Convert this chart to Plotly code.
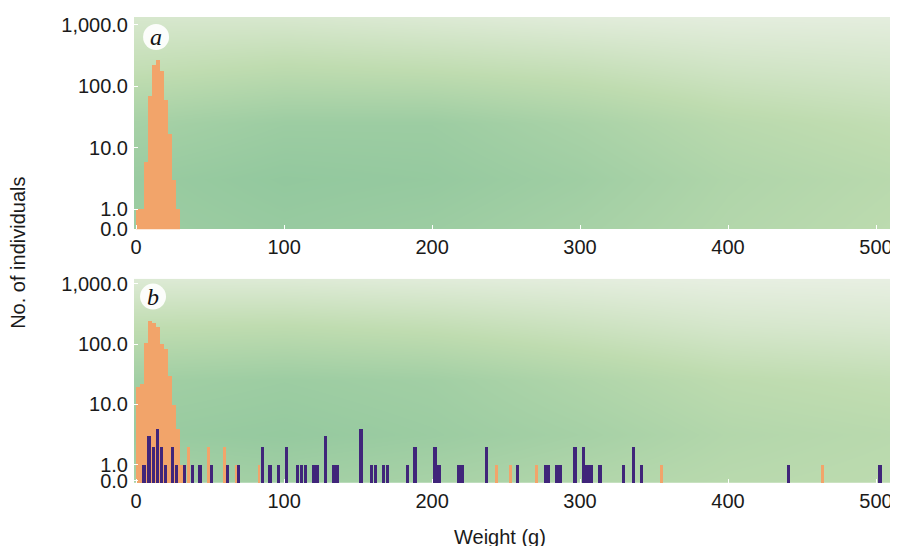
import plotly.graph_objects as go

# ---------------- data ----------------
bin_width = 2.7
# panel a: orange histogram (bin centres, g) and counts
orange_a_x = [1.35, 4.05, 6.75, 9.45, 12.15, 14.85, 17.55, 20.25, 22.95, 25.65, 28.35]
orange_a_y = [1, 1, 6, 69, 220, 265, 180, 60, 17, 3, 1]

# panel b: orange histogram main body
orange_b_x = [1.35, 4.05, 6.75, 9.45, 12.15, 14.85, 17.55, 20.25, 22.95, 25.65, 28.35, 31.05]
orange_b_y = [20, 22, 105, 245, 224, 195, 100, 83, 30, 10, 4, 1]
# panel b: isolated orange bars
orange_b2_x = [35.3, 48.9, 59.5, 67.6, 83.0, 243.7, 253.2, 270.7, 355.0, 463.9]
orange_b2_y = [2, 2, 2, 1, 1, 1, 1, 1, 1, 1]
# panel b: purple bars
purple_x = [5.4, 8.8, 11.7, 14.4, 17.1, 19.8, 24.5, 27.4, 32.6, 38.0, 43.2, 51.1,
            61.6, 69.3, 85.3, 90.5, 96.2, 101.4, 109.0, 111.8, 114.5, 119.8, 122.3,
            128.0, 133.3, 135.7, 152.0, 159.2, 161.9, 167.3, 169.8, 183.3, 188.5,
            202.0, 204.7, 217.8, 220.3, 236.9, 257.6, 276.4, 278.8, 284.0, 286.5,
            296.6, 302.2, 304.7, 307.4, 313.5, 329.3, 336.0, 341.7, 440.7, 502.7]
purple_y = [1, 3, 2, 4, 2, 1, 2, 1, 1, 1, 1, 1,
            1, 1, 2, 1, 1, 2, 1, 1, 1, 1, 1,
            3, 1, 1, 4, 1, 1, 1, 1, 1, 2,
            2, 1, 1, 1, 2, 1, 1, 1, 1, 1,
            2, 2, 1, 1, 1, 1, 2, 1, 1, 1]

x_ticks = [0, 100, 200, 300, 400, 500]
x_tick_text = ["0", "100", "200", "300", "400", "500"]
y_tick_text = ["0.0", "1.0", "10.0", "100.0", "1,000.0"]

# background shading grid (style only)
bg_x = [-2, 100, 200, 300, 400, 515]
bg_logy = [-0.4, 0.5, 1.4, 2.3, 3.25]
bg_a = [[0.85, 0.90, 0.85, 0.75, 0.62, 0.52],
        [0.88, 0.95, 0.92, 0.82, 0.66, 0.56],
        [0.75, 0.85, 0.85, 0.72, 0.56, 0.46],
        [0.45, 0.52, 0.48, 0.42, 0.32, 0.27],
        [0.22, 0.20, 0.15, 0.10, 0.08, 0.08]]
bg_b = [[0.72, 0.78, 0.72, 0.62, 0.56, 0.52],
        [0.88, 0.92, 0.86, 0.76, 0.62, 0.56],
        [0.80, 0.85, 0.80, 0.66, 0.52, 0.46],
        [0.48, 0.50, 0.45, 0.36, 0.26, 0.22],
        [0.12, 0.10, 0.07, 0.05, 0.03, 0.03]]

ORANGE = "#f2a46a"
PURPLE = "#40257a"
bg_scale = [[0.0, "#eef2ea"], [0.5, "#bfdcb0"], [1.0, "#8ec69c"]]

fig = go.Figure()

bg_y = [10 ** v for v in bg_logy]
fig.add_trace(go.Heatmap(x=bg_x, y=bg_y, z=bg_a, zsmooth="best", colorscale=bg_scale,
                         zmin=0, zmax=1, showscale=False, hoverinfo="skip",
                         xaxis="x", yaxis="y"))
fig.add_trace(go.Heatmap(x=bg_x, y=bg_y, z=bg_b, zsmooth="best", colorscale=bg_scale,
                         zmin=0, zmax=1, showscale=False, hoverinfo="skip",
                         xaxis="x2", yaxis="y2"))

fig.add_trace(go.Bar(x=orange_a_x, y=orange_a_y, width=bin_width, marker_color=ORANGE,
                     marker_line_width=0, xaxis="x", yaxis="y"))
fig.add_trace(go.Bar(x=orange_b_x, y=orange_b_y, width=bin_width, marker_color=ORANGE,
                     marker_line_width=0, xaxis="x2", yaxis="y2"))
fig.add_trace(go.Bar(x=orange_b2_x, y=orange_b2_y, width=1.9, marker_color=ORANGE,
                     marker_line_width=0, xaxis="x2", yaxis="y2"))
fig.add_trace(go.Bar(x=purple_x, y=purple_y, width=2.2, marker_color=PURPLE,
                     marker_line_width=0, xaxis="x2", yaxis="y2"))

FONT = dict(family="Liberation Sans, Arial, sans-serif", size=20, color="#1a1a1a")

xcommon = dict(range=[-1.4, 512.8], tickvals=x_ticks, ticktext=x_tick_text,
               ticks="inside", ticklen=4, tickcolor="white", showgrid=False,
               zeroline=False, showline=False, tickfont=FONT, ticklabelstandoff=4)

ya_range = [-0.32, 3.13]
yb_range = [-0.30, 3.08]
# page has an 8px body margin, so the figure is 8px smaller and margins 8px tighter
fig.update_layout(
    width=890, height=538,
    margin=dict(l=126, r=3, t=5, b=63),
    paper_bgcolor="white", plot_bgcolor="white",
    showlegend=False, barmode="overlay", bargap=0,
    xaxis=dict(domain=[0, 1], anchor="y", **xcommon),
    xaxis2=dict(domain=[0, 1], anchor="y2", **xcommon),
    yaxis=dict(domain=[0.5447, 1.0], anchor="x", type="log", range=ya_range,
               tickvals=[10 ** (ya_range[0] + 0.005), 1, 10, 100, 1000], ticktext=y_tick_text,
               ticks="inside", ticklen=4, tickcolor="white", showgrid=False,
               zeroline=False, showline=False, tickfont=FONT, ticklabelstandoff=5),
    yaxis2=dict(domain=[0.0, 0.4383], anchor="x2", type="log", range=yb_range,
                tickvals=[10 ** (yb_range[0] + 0.04), 1, 10, 100, 1000], ticktext=y_tick_text,
                ticks="inside", ticklen=4, tickcolor="white", showgrid=False,
                zeroline=False, showline=False, tickfont=FONT, ticklabelstandoff=5),
)

# panel letters in white discs
for cx, cy, letter in [(0.029, 0.957, "a"), (0.025, 0.400, "b")]:
    fig.add_shape(type="circle", xref="paper", yref="paper", xsizemode="pixel",
                  ysizemode="pixel", xanchor=cx, yanchor=cy, x0=-13, x1=13, y0=-13, y1=13,
                  fillcolor="rgba(255,255,255,0.92)", line_width=0)
    fig.add_annotation(x=cx, y=cy, xref="paper", yref="paper", text=f"<i>{letter}</i>",
                       showarrow=False, xanchor="center", yanchor="middle",
                       font=dict(family="Liberation Serif, DejaVu Serif, serif", size=24,
                                 color="#111111"))

fig.add_annotation(x=-0.1524, y=0.494, xref="paper", yref="paper", text="No. of individuals",
                   textangle=-90, showarrow=False, xanchor="center", yanchor="middle", font=FONT)
fig.add_annotation(x=0.481, y=-0.115, xref="paper", yref="paper", text="Weight (g)",
                   showarrow=False, xanchor="center", yanchor="middle", font=FONT)

fig.write_html("out.html")
